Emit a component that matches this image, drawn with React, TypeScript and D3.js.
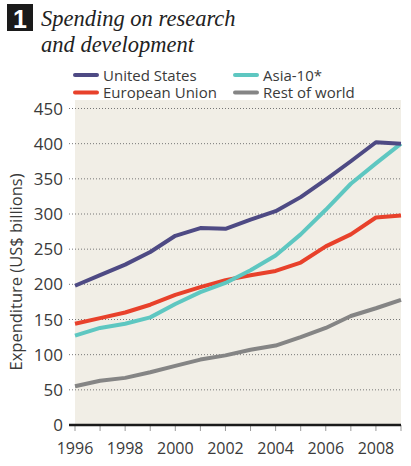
import React from "react";
import * as d3 from "d3";

const years = [1996, 1997, 1998, 1999, 2000, 2001, 2002, 2003, 2004, 2005, 2006, 2007, 2008, 2009];
const unitedStates = [198, 213, 228, 246, 269, 280, 279, 292, 304, 324, 349, 375, 402, 400];
const europeanUnion = [144, 152, 160, 171, 185, 196, 206, 213, 219, 231, 254, 271, 295, 298];
const asia10 = [127, 138, 144, 153, 172, 189, 202, 220, 241, 271, 306, 343, 372, 400];
const restOfWorld = [55, 63, 67, 75, 84, 93, 99, 107, 113, 125, 138, 155, 166, 178];
const yTicks = [0, 50, 100, 150, 200, 250, 300, 350, 400, 450];
const xTickLabels = [1996, 1998, 2000, 2002, 2004, 2006, 2008];

const series = [
  { name: "United States", values: unitedStates, color: "#4e4a84" },
  { name: "European Union", values: europeanUnion, color: "#e8412b" },
  { name: "Asia-10*", values: asia10, color: "#5ec7c1" },
  { name: "Rest of world", values: restOfWorld, color: "#858585" },
];
const drawOrder = ["Rest of world", "European Union", "Asia-10*", "United States"];

export default function App() {
  const W = 411, H = 466;
  const left = 75, right = 401, top = 108.5, bottom = 425;
  const x = d3.scaleLinear().domain([1996, 2009]).range([left, right]);
  const y = d3.scaleLinear().domain([0, 450]).range([bottom, top]);
  const line = d3.line<number>().x((_, i) => x(years[i])).y((v) => y(v)).curve(d3.curveLinear);
  const font = "'Open Sans', 'Noto Sans', sans-serif";
  const textColor = "#3a3a3a";

  const legend = [
    { s: series[0], lx: 75, ly: 75 },
    { s: series[2], lx: 235, ly: 75 },
    { s: series[1], lx: 75, ly: 92.5 },
    { s: series[3], lx: 235, ly: 92.5 },
  ];

  return (
    <svg width={W} height={H} style={{ position: "absolute", left: 0, top: 0, background: "#fff" }}>
      {/* title */}
      <rect x={7} y={4} width={26} height={27} fill="#1a1a1a" />
      <text x={20} y={27.5} textAnchor="middle" fill="#fff" fontFamily="'Liberation Sans', Arial, sans-serif" fontWeight="bold" fontSize={25}>1</text>
      <text x={41} y={26} fontFamily="'Liberation Serif', serif" fontStyle="italic" fontSize={22.5} fill="#222">Spending on research</text>
      <text x={41} y={52} fontFamily="'Liberation Serif', serif" fontStyle="italic" fontSize={22.5} fill="#222">and development</text>

      {/* legend */}
      {legend.map(({ s, lx, ly }) => (
        <g key={s.name}>
          <line x1={lx} x2={lx + 22} y1={ly} y2={ly} stroke={s.color} strokeWidth={4} strokeLinecap="round" />
          <text x={lx + 28} y={ly + 5.5} fontFamily={font} fontSize={15} fill={textColor}>{s.name}</text>
        </g>
      ))}

      {/* plot background */}
      <rect x={left} y={100} width={right - left} height={bottom - 100} fill="#f1eee6" />

      {/* grid + y labels */}
      {yTicks.map((t) => (
        <g key={t}>
          {t > 0 && (
            <line x1={69} x2={right} y1={y(t)} y2={y(t)} stroke="#777" strokeWidth={1} strokeDasharray="1 2" />
          )}
          <text x={63} y={y(t) + 6} textAnchor="end" fontFamily={font} fontSize={17} fill={textColor}>{t}</text>
        </g>
      ))}

      {/* y axis title */}
      <text transform={`translate(22, 272) rotate(-90)`} textAnchor="middle" fontFamily={font} fontSize={16.5} fill={textColor}>
        Expenditure (US$ billions)
      </text>

      {/* lines */}
      {drawOrder.map((n) => {
        const s = series.find((q) => q.name === n)!;
        return (
          <path key={n} d={line(s.values) || ""} fill="none" stroke={s.color} strokeWidth={4} strokeLinejoin="round" strokeLinecap="butt" />
        );
      })}

      {/* x axis */}
      {years.map((yr) => (
        <line key={yr} x1={x(yr)} x2={x(yr)} y1={bottom} y2={bottom + 6} stroke="#999" strokeWidth={1} />
      ))}
      <line x1={69} x2={right} y1={bottom} y2={bottom} stroke="#1a1a1a" strokeWidth={2.5} />
      {xTickLabels.map((yr) => (
        <text key={yr} x={x(yr)} y={454} textAnchor="middle" fontFamily={font} fontSize={16} fill={textColor}>{yr}</text>
      ))}
    </svg>
  );
}
